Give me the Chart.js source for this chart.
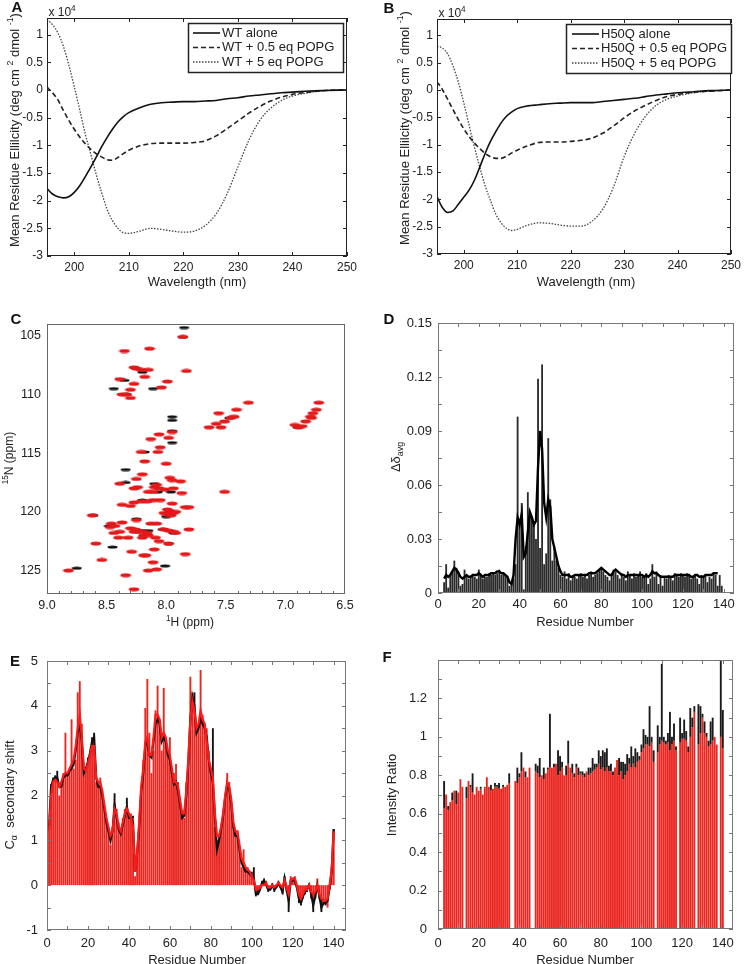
<!DOCTYPE html>
<html>
<head>
<meta charset="utf-8">
<script src="https://cdn.jsdelivr.net/npm/chart.js@4.4.0/dist/chart.umd.min.js"></script>
<style>
html, body { margin: 0; padding: 0; background: #fff; }
#fig { position: relative; width: 745px; height: 964px; overflow: hidden; font-family: 'Liberation Sans', Arial, sans-serif; color: #222; }
.pane { position: absolute; }
.lbl { position: absolute; white-space: nowrap; line-height: 1; transform: translate(-50%, -50%); }
.rot { transform: translate(-50%, -50%) rotate(-90deg); }
.letter { font-weight: bold; font-size: 15px; color: #111; }
.t12 { font-size: 12px; }
.t13 { font-size: 13px; }
sup, sub { font-size: 0.68em; line-height: 0; }
</style>
</head>
<body>
<div id="fig">
  <div class="pane" style="left:0;top:0;width:372px;height:300px"><canvas id="chartA"></canvas></div>
  <div class="pane" style="left:372px;top:0;width:373px;height:300px"><canvas id="chartB"></canvas></div>
  <div class="pane" style="left:0;top:300px;width:372px;height:332px"><canvas id="chartC"></canvas></div>
  <div class="pane" style="left:372px;top:300px;width:373px;height:332px"><canvas id="chartD"></canvas></div>
  <div class="pane" style="left:0;top:632px;width:372px;height:332px"><canvas id="chartE"></canvas></div>
  <div class="pane" style="left:372px;top:632px;width:373px;height:332px"><canvas id="chartF"></canvas></div>

  <div class="lbl letter" style="left:17px;top:6px">A</div>
  <div class="lbl t12" style="left:62px;top:12px">x 10<sup>4</sup></div>
  <div class="lbl rot t13" style="left:14px;top:130px">Mean Residue Ellilcity (deg cm <sup>2</sup> dmol <sup>-1</sup>)</div>
  <div class="lbl t13" style="left:197px;top:281px">Wavelength (nm)</div>

  <div class="lbl letter" style="left:389px;top:7px">B</div>
  <div class="lbl t12" style="left:452px;top:13px">x 10<sup>4</sup></div>
  <div class="lbl rot t13" style="left:404px;top:128px">Mean Residue Ellilcity (deg cm <sup>2</sup> dmol <sup>-1</sup>)</div>
  <div class="lbl t13" style="left:586px;top:281px">Wavelength (nm)</div>

  <div class="lbl letter" style="left:16px;top:318px">C</div>
  <div class="lbl rot t12" style="left:9px;top:458px"><sup>15</sup>N (ppm)</div>
  <div class="lbl t12" style="left:190px;top:622px"><sup>1</sup>H (ppm)</div>

  <div class="lbl letter" style="left:389px;top:318px">D</div>
  <div class="lbl rot t13" style="left:395px;top:457px">&Delta;&delta;<sub>avg</sub></div>
  <div class="lbl t13" style="left:585px;top:621px">Residue Number</div>

  <div class="lbl letter" style="left:15px;top:660px">E</div>
  <div class="lbl rot t13" style="left:9px;top:795px">C<sub>&alpha;</sub>&nbsp; secondary shift</div>
  <div class="lbl t13" style="left:197px;top:959px">Residue Number</div>

  <div class="lbl letter" style="left:387px;top:656px">F</div>
  <div class="lbl rot t13" style="left:391px;top:795px">Intensity Ratio</div>
  <div class="lbl t13" style="left:585px;top:959px">Residue Number</div>
</div>

<script>
// ---------- data ----------
// CD spectra (units of 10^4 deg cm2 dmol-1)
const cdWavelength = [195,196,197,198,199,200,201,202,203,204,205,206,207,208,209,210,212,214,216,218,220,222,224,226,228,230,232,234,236,238,240,243,246,250];
const wtAlone  = [-1.78,-1.88,-1.93,-1.95,-1.93,-1.85,-1.73,-1.57,-1.40,-1.22,-1.03,-0.86,-0.71,-0.58,-0.48,-0.41,-0.32,-0.26,-0.23,-0.22,-0.21,-0.21,-0.20,-0.19,-0.16,-0.14,-0.11,-0.09,-0.07,-0.05,-0.04,-0.02,-0.01,0];
const wtHalf   = [0.05,-0.05,-0.18,-0.37,-0.55,-0.71,-0.85,-0.97,-1.07,-1.15,-1.21,-1.26,-1.27,-1.22,-1.15,-1.09,-1.01,-0.97,-0.96,-0.96,-0.96,-0.95,-0.92,-0.83,-0.70,-0.56,-0.42,-0.30,-0.20,-0.13,-0.08,-0.04,-0.01,0];
const wtFive   = [1.27,1.18,1.03,0.79,0.45,0.06,-0.36,-0.79,-1.15,-1.52,-1.85,-2.15,-2.36,-2.50,-2.58,-2.59,-2.55,-2.50,-2.52,-2.55,-2.57,-2.55,-2.45,-2.24,-1.88,-1.39,-0.91,-0.55,-0.33,-0.19,-0.11,-0.05,-0.01,0];
const h50qAlone = [-1.95,-2.15,-2.24,-2.21,-2.09,-1.96,-1.83,-1.65,-1.41,-1.16,-0.94,-0.76,-0.60,-0.48,-0.40,-0.34,-0.29,-0.27,-0.25,-0.24,-0.23,-0.23,-0.23,-0.21,-0.19,-0.17,-0.15,-0.12,-0.09,-0.07,-0.05,-0.03,-0.01,0];
const h50qHalf  = [0.15,0.01,-0.17,-0.36,-0.54,-0.71,-0.85,-0.97,-1.07,-1.16,-1.22,-1.25,-1.25,-1.21,-1.15,-1.10,-1.02,-0.96,-0.95,-0.95,-0.94,-0.92,-0.88,-0.79,-0.66,-0.51,-0.38,-0.28,-0.19,-0.12,-0.08,-0.04,-0.02,0];
const h50qFive  = [0.80,0.77,0.66,0.44,0.14,-0.23,-0.64,-1.04,-1.41,-1.75,-2.02,-2.27,-2.43,-2.53,-2.57,-2.55,-2.47,-2.43,-2.44,-2.47,-2.49,-2.49,-2.40,-2.18,-1.78,-1.22,-0.79,-0.48,-0.28,-0.17,-0.11,-0.05,-0.02,0];

// HSQC peaks: [1H ppm, 15N ppm]
const peaksRed = [
  [7.86,105.1],[8.35,106.3],[8.14,106.1],[7.83,108.0],[8.27,107.7],[8.25,107.8],[8.21,107.9],[8.15,107.9],[8.18,108.5],[8.39,108.7],
  [8.27,109.1],[7.99,108.9],[8.04,109.4],[8.30,109.6],[8.37,110.0],[8.34,110.0],[8.30,110.3],[7.31,110.7],[7.41,111.3],[7.56,111.6],
  [7.46,112.0],[7.43,111.9],[7.51,112.3],[7.58,112.5],[7.64,112.8],[7.54,112.8],[6.72,110.7],[6.74,111.3],[6.77,111.6],[6.79,111.9],
  [6.78,112.0],[6.83,112.3],[6.92,112.6],[6.89,112.8],[6.86,112.7],[8.13,113.8],[8.06,113.4],[7.98,113.7],[7.95,113.2],[8.05,114.5],
  [8.07,114.9],[8.21,114.9],[8.18,115.7],[8.00,115.9],[8.20,116.8],[8.25,117.2],[7.97,117.1],[7.95,117.3],[7.88,117.4],[8.39,117.6],
  [8.24,117.9],[8.27,118.0],[8.08,117.7],[8.10,117.9],[8.06,118.0],[8.15,118.3],[8.11,118.3],[8.01,118.1],[7.94,118.0],[7.87,118.4],
  [7.51,118.3],[8.05,119.0],[8.11,119.0],[8.16,119.1],[8.21,119.1],[8.27,119.2],[7.95,119.3],[7.81,119.6],[7.84,119.6],[8.30,119.5],
  [8.37,119.4],[7.99,119.8],[7.97,120.0],[7.94,120.1],[7.99,120.2],[7.96,120.3],[8.02,120.1],[7.92,120.0],[8.62,120.3],[8.25,120.7],
  [8.13,121.0],[8.08,121.0],[8.37,120.9],[8.46,121.0],[8.47,121.3],[8.43,121.2],[8.30,121.4],[8.26,121.5],[8.27,121.7],[8.24,121.6],
  [8.39,121.7],[8.44,121.8],[8.20,121.7],[8.16,121.8],[8.19,122.0],[8.15,122.0],[8.02,121.5],[7.98,121.6],[7.94,121.7],[7.92,121.8],
  [7.81,121.5],[8.40,122.2],[8.32,122.2],[8.09,122.2],[8.20,122.2],[8.06,122.5],[7.98,122.7],[8.59,122.7],[8.29,123.4],[8.19,123.7],
  [8.17,123.7],[8.10,123.2],[7.84,123.6],[8.54,124.1],[8.11,124.3],[8.15,125.0],[8.08,124.9],[8.82,125.0],[8.34,125.4],[8.27,126.6]
];
const peaksBlack = [
  [7.85,104.3],[7.86,105.1],[8.20,108.1],[8.35,108.8],[8.44,109.5],[8.11,109.5],[8.33,110.0],[7.95,111.9],[7.95,112.2],[7.47,112.0],
  [6.90,112.8],[7.95,113.1],[7.95,114.1],[8.18,114.9],[8.34,116.4],[8.34,117.5],[8.07,118.3],[7.96,118.3],[8.10,117.6],[8.20,119.0],
  [7.97,119.9],[8.00,120.4],[8.61,120.3],[8.25,120.6],[8.48,121.2],[8.24,121.7],[8.20,121.6],[8.03,121.5],[7.94,121.8],[8.45,123.0],
  [8.01,124.6],[8.75,124.8],[8.15,121.6],[7.98,122.7]
];

// Residue 1..140 values (null = no data)
const shiftBarsD = [
  null,null,0.006,0.016,0.003,0.010,0.012,0.018,0.014,0.012, 0.004,0.005,0.013,0.009,0.008,0.009,0.010,0.009,0.008,0.013,
  0.010,0.008,0.009,0.009,0.011,0.010,0.011,0.010,0.011,0.013, 0.010,0.011,0.010,0.009,0.004,0.006,0.008,0.016,0.098,0.040,
  0.050,0.002,0.026,0.056,0.044,0.042,0.038,0.030,0.119,0.025, 0.127,0.016,0.022,0.086,0.052,0.018,0.026,0.018,0.014,0.010,
  0.009,0.012,0.008,0.011,0.007,0.010,0.009,0.008,0.010,0.011, 0.009,0.010,0.008,0.010,0.012,0.009,0.010,0.011,0.013,0.014,
  0.012,0.010,0.009,0.007,0.010,0.013,0.012,0.010,0.008,0.011, 0.009,0.007,0.012,0.010,0.008,0.011,0.009,0.010,0.012,0.009,
  0.010,0.011,0.005,0.008,0.016,0.009,0.012,0.005,0.010,0.004, 0.009,0.008,0.010,0.009,0.007,0.011,0.010,0.009,0.011,0.010,
  0.009,0.011,0.010,0.008,0.009,0.010,0.008,0.005,0.010,0.009, 0.010,0.006,0.009,0.008,0.011,0.010,0.004,0.010,0.004,null
];
const shiftLineD = [
  null,null,0.008,0.010,0.009,0.010,0.012,0.014,0.013,0.011, 0.009,0.008,0.009,0.010,0.009,0.009,0.010,0.010,0.010,0.011,
  0.010,0.009,0.010,0.010,0.010,0.011,0.011,0.011,0.012,0.012, 0.011,0.011,0.010,0.009,0.006,0.005,0.010,0.030,0.042,0.038,
  0.044,0.020,0.022,0.034,0.045,0.042,0.038,0.040,0.070,0.090, 0.080,0.050,0.042,0.052,0.048,0.030,0.025,0.020,0.015,0.012,
  0.010,0.010,0.010,0.010,0.009,0.009,0.010,0.010,0.010,0.010, 0.010,0.010,0.010,0.011,0.011,0.011,0.011,0.012,0.013,0.014,
  0.013,0.012,0.011,0.010,0.010,0.012,0.013,0.012,0.011,0.010, 0.010,0.009,0.010,0.010,0.010,0.010,0.010,0.010,0.010,0.010,
  0.009,0.010,0.009,0.010,0.012,0.011,0.011,0.010,0.009,0.009, 0.009,0.009,0.009,0.009,0.009,0.010,0.010,0.010,0.010,0.010,
  0.010,0.010,0.010,0.009,0.009,0.010,0.010,0.009,0.009,0.009, 0.010,0.010,0.010,0.010,0.011,0.011,0.011,null,null,null
];

const caBarsRed = [
  1.2,2.2,2.3,2.4,2.3,2.0,2.3,2.5,3.4,2.5, 2.6,3.7,2.6,2.8,4.3,4.55,3.6,2.5,2.6,2.8,
  3.0,3.2,3.3,2.3,2.2,2.4,2.0,1.7,1.5,1.2, 0.9,1.3,1.9,1.7,1.4,1.2,1.5,1.7,1.8,1.6,
  1.6,1.5,0.2,0.6,1.4,2.0,2.8,3.95,4.6,3.4, 2.5,3.0,3.9,4.45,3.7,3.0,4.4,3.2,3.0,3.3,
  2.6,2.5,2.7,2.3,1.9,1.6,1.5,2.3,2.6,4.65, 4.3,4.0,3.6,3.5,4.8,3.8,3.6,3.5,3.0,2.6,
  2.4,1.3,1.0,1.1,1.3,1.6,2.0,2.5,2.3,1.8, 1.4,1.2,1.2,0.8,0.4,0.8,0.4,0.4,0.3,0.2,
  0.1,-0.2,-0.1,-0.05,0.05,0.0,0.1,-0.1,-0.05,0.05, -0.1,0.0,0.1,0.0,-0.1,0.15,-0.1,-0.3,0.2,0.15,
  0.2,0.0,-0.3,-0.35,-0.2,-0.1,-0.1,0.05,-0.2,-0.3, -0.15,0.15,-0.2,-0.3,-0.3,-0.4,-0.5,0.0,0.4,1.2
];
const caBarsBlack = [
  1.35,2.25,2.4,2.45,2.55,2.0,2.25,2.4,3.3,2.4, 2.5,3.6,2.5,2.7,4.2,4.4,3.5,2.4,2.6,2.85,
  2.9,3.3,3.4,2.2,2.1,2.3,1.9,1.6,1.4,1.1, 0.9,1.2,2.05,1.6,1.3,1.1,1.4,1.6,1.95,1.5,
  1.6,1.55,0.2,0.65,1.3,1.9,2.7,3.8,4.4,3.3, 2.4,2.9,3.8,4.3,3.6,2.9,4.3,3.1,2.9,3.2,
  2.5,2.4,2.6,2.2,1.9,1.5,1.4,2.2,2.5,4.5, 4.3,4.3,3.5,3.4,4.6,3.7,3.5,3.4,2.9,2.5,
  3.5,1.2,0.8,1.0,1.2,1.5,1.9,2.4,2.3,1.7, 1.3,1.1,1.1,0.7,0.3,0.7,0.4,0.4,0.3,0.3,
  0.4,-0.25,-0.2,-0.1,0.1,0.15,0.0,-0.15,-0.1,0.0, -0.15,-0.05,0.1,-0.05,-0.2,0.2,-0.15,-0.6,0.15,0.1,
  0.15,-0.05,-0.4,-0.45,-0.3,-0.2,-0.15,0.05,-0.3,-0.6, -0.3,0.1,-0.3,-0.6,-0.4,-0.45,-0.4,-0.1,0.3,1.25
];
const caLineRed = [
  1.2,2.0,2.3,2.35,2.3,2.2,2.3,2.45,2.5,2.5, 2.6,2.7,2.8,3.1,3.5,3.8,3.3,2.6,2.55,2.7,
  2.9,3.1,3.1,2.4,2.3,2.3,2.1,1.8,1.5,1.3, 1.1,1.2,1.7,1.6,1.3,1.2,1.4,1.6,1.7,1.6,
  1.5,1.3,0.3,0.7,1.4,2.2,2.6,3.2,3.3,2.9, 2.9,3.3,3.8,3.8,3.7,3.3,3.4,3.3,3.0,2.9,
  2.6,2.3,2.3,2.2,1.9,1.6,1.6,2.1,2.8,3.7, 4.1,3.9,3.5,3.6,3.9,3.7,3.6,3.2,2.8,2.6,
  2.4,1.6,1.1,1.1,1.3,1.6,2.0,2.3,2.2,1.9, 1.4,1.2,1.2,0.9,0.6,0.5,0.4,0.35,0.3,0.2,
  0.1,-0.1,-0.1,-0.05,0.0,0.0,0.05,-0.05,-0.05,0.0, -0.05,0.0,0.05,0.0,-0.05,0.1,-0.05,-0.2,0.1,0.15,
  0.15,0.0,-0.2,-0.3,-0.2,-0.1,-0.1,0.0,-0.15,-0.2, -0.15,0.0,-0.2,-0.3,-0.35,-0.35,-0.3,0.0,0.35,1.2
];
const caLineBlack = [
  1.3,2.2,2.35,2.4,2.4,2.2,2.2,2.4,2.45,2.45, 2.55,2.6,2.7,3.0,3.4,3.65,3.2,2.5,2.6,2.75,
  2.95,3.2,3.3,2.4,2.2,2.2,2.0,1.7,1.4,1.2, 1.0,1.2,1.8,1.5,1.25,1.15,1.35,1.55,1.75,1.5,
  1.5,1.4,0.3,0.7,1.3,2.1,2.5,3.1,3.2,2.9, 2.85,3.2,3.6,3.7,3.6,3.2,3.3,3.2,2.9,2.8,
  2.5,2.25,2.3,2.1,1.8,1.5,1.55,2.0,2.7,3.7, 4.2,4.0,3.4,3.5,3.7,3.6,3.5,3.3,2.8,2.5,
  2.3,1.5,0.8,1.0,1.25,1.55,1.95,2.25,2.15,1.8, 1.3,1.1,1.1,0.8,0.5,0.4,0.3,0.3,0.25,0.2,
  0.15,-0.2,-0.2,-0.1,0.05,0.1,0.0,-0.1,-0.1,0.0, -0.1,-0.05,0.05,-0.05,-0.15,0.15,-0.1,-0.35,0.1,0.1,
  0.1,-0.05,-0.3,-0.4,-0.25,-0.15,-0.1,0.0,-0.2,-0.45, -0.25,0.0,-0.25,-0.5,-0.4,-0.4,-0.35,-0.05,0.3,1.25
];

const ratioRed = [
  null,null,0.63,0.70,0.62,0.66,0.67,0.72,0.65,0.71, 0.78,0.74,null,0.68,0.77,0.74,0.71,0.70,0.74,0.72,
  0.73,0.70,0.74,0.79,0.74,0.72,0.73,0.74,0.74,0.73, 0.73,0.74,0.74,0.75,0.76,null,null,0.77,0.76,0.79,
  0.82,0.84,0.79,0.79,0.84,null,null,0.82,0.81,0.79, 0.80,0.78,0.81,0.83,0.84,0.84,0.84,0.86,0.80,0.82,
  0.84,0.80,0.80,0.86,0.84,0.81,0.79,0.84,0.80,0.81, 0.80,0.79,0.82,0.80,0.81,0.82,0.83,0.84,0.86,0.83,
  0.84,0.82,0.84,0.82,0.82,0.80,0.84,0.88,0.80,0.82, 0.78,0.80,0.82,0.86,0.84,0.86,0.84,0.87,0.88,0.92,
  0.94,0.96,0.96,0.95,0.97,0.87,null,0.92,0.96,0.98, 0.97,0.96,0.97,0.93,0.96,0.98,0.93,null,0.97,0.99,
  0.99,0.98,0.92,1.00,1.05,1.13,null,0.96,1.02,1.10, 1.02,1.00,0.95,0.96,0.98,1.00,0.96,null,1.00,0.94
];
const ratioBlack = [
  null,null,0.77,0.70,0.64,0.66,0.71,0.72,0.72,0.71, 0.78,0.74,null,0.74,0.77,0.75,0.81,0.70,0.74,0.72,
  0.74,0.70,0.74,0.79,0.74,0.75,0.73,0.76,0.75,0.76, 0.73,0.75,0.74,0.75,0.81,null,null,0.77,0.84,0.81,
  0.92,0.84,0.82,0.79,0.84,null,null,0.86,0.85,0.89, 0.80,0.84,0.80,0.84,1.12,0.84,0.86,0.86,0.93,0.90,
  0.87,0.80,0.85,0.98,0.84,0.86,0.81,0.86,0.84,0.82, 0.82,0.81,0.82,0.84,0.84,0.89,0.86,0.86,0.93,0.90,
  0.93,0.92,0.94,0.85,0.86,0.82,0.84,0.88,0.89,0.87, 0.87,0.86,0.91,0.89,0.95,0.90,0.94,0.92,0.90,0.96,
  1.04,1.01,1.00,1.16,1.00,0.93,null,1.06,1.00,1.38, 1.00,0.98,1.02,1.13,1.00,1.07,0.95,null,1.10,1.02,
  1.09,1.03,0.95,1.15,1.10,1.16,null,1.17,1.16,1.12, 1.08,1.02,0.98,1.08,1.10,0.96,0.95,null,1.40,1.14
];

// tick values
const cdTicksX = [200,210,220,230,240,250];
const cdTicksY = [-3,-2.5,-2,-1.5,-1,-0.5,0,0.5,1];
const nmrTicksX = [9.0,8.5,8.0,7.5,7.0,6.5];
const nmrTicksY = [105,110,115,120,125];
const nmrMinorX = [8.9,8.8,8.7,8.6,8.4,8.3,8.2,8.1,7.9,7.8,7.7,7.6,7.4,7.3,7.2,7.1,6.9,6.8,6.7,6.6];
const resTicksX = [0,20,40,60,80,100,120,140];
const resMinorX = [0,10,20,30,40,50,60,70,80,90,100,110,120,130,140];
const dTicksY = [0,0.03,0.06,0.09,0.12,0.15];
const dMinorY = [0,0.015,0.03,0.045,0.06,0.075,0.09,0.105,0.12,0.135,0.15];
const eTicksY = [-1,0,1,2,3,4,5];
const eMinorY = [-1,-0.5,0,0.5,1,1.5,2,2.5,3,3.5,4,4.5,5];
const fTicksY = [0,0.2,0.4,0.6,0.8,1,1.2];
const fMinorY = [0,0.1,0.2,0.3,0.4,0.5,0.6,0.7,0.8,0.9,1,1.1,1.2,1.3,1.4];

// ---------- helpers ----------
const FONT = "'Liberation Sans', Arial, sans-serif";
Chart.defaults.font.family = FONT;
Chart.defaults.color = '#222';
Chart.defaults.animation = false;
Chart.defaults.plugins.legend.display = false;
Chart.defaults.plugins.tooltip.enabled = false;

const framePlugin = {
  id: 'frame',
  afterDatasetsDraw(chart, args, o) {
    if (!o.on) return;
    const {ctx, chartArea: a} = chart;
    const sx = chart.scales.x, sy = chart.scales.y;
    ctx.save();
    ctx.strokeStyle = o.color;
    ctx.lineWidth = 1;
    ctx.strokeRect(a.left + 0.5, a.top + 0.5, a.right - a.left - 1, a.bottom - a.top - 1);
    ctx.beginPath();
    (o.xTicks || []).forEach(v => {
      const x = Math.round(sx.getPixelForValue(v)) + 0.5;
      ctx.moveTo(x, a.bottom); ctx.lineTo(x, a.bottom - o.len);
      if (o.top !== false) { ctx.moveTo(x, a.top); ctx.lineTo(x, a.top + o.len); }
    });
    (o.yTicks || []).forEach(v => {
      const y = Math.round(sy.getPixelForValue(v)) + 0.5;
      ctx.moveTo(a.left, y); ctx.lineTo(a.left + o.len, y);
      if (o.right !== false) { ctx.moveTo(a.right, y); ctx.lineTo(a.right - o.len, y); }
    });
    ctx.stroke();
    ctx.restore();
  }
};

const legendBox = {
  id: 'legendBox',
  afterDraw(chart, args, o) {
    if (!o.on) return;
    const ctx = chart.ctx;
    ctx.save();
    ctx.fillStyle = '#fff';
    ctx.fillRect(o.x, o.y, o.w, o.h);
    ctx.strokeStyle = '#222';
    ctx.lineWidth = 1.5;
    ctx.strokeRect(o.x + 0.5, o.y + 0.5, o.w, o.h);
    ctx.font = '13px ' + FONT;
    ctx.textBaseline = 'middle';
    chart.data.datasets.forEach((ds, i) => {
      const y = o.y + o.first + i * o.step;
      ctx.setLineDash(ds.borderDash || []);
      ctx.lineWidth = ds.borderWidth;
      ctx.strokeStyle = ds.borderColor;
      ctx.beginPath();
      ctx.moveTo(o.x + o.pad, y);
      ctx.lineTo(o.x + o.pad + o.sample, y);
      ctx.stroke();
      ctx.setLineDash([]);
      ctx.fillStyle = '#222';
      ctx.fillText(ds.label, o.x + o.pad + o.sample + 2, y);
    });
    ctx.restore();
  }
};
Chart.register(framePlugin, legendBox);

function axis(min, max, ticks, o) {
  return {
    type: 'linear', min: min, max: max, reverse: !!o.reverse, offset: false,
    grid: { display: false, drawTicks: false },
    border: { display: false },
    ticks: {
      padding: o.pad, font: { size: o.size }, color: '#222',
      autoSkip: false, maxRotation: 0, minRotation: 0,
      callback: o.fmt || (v => String(v))
    },
    afterBuildTicks: s => { s.ticks = ticks.map(v => ({ value: v })); },
    afterFit: s => { if (o.w) s.width = o.w; if (o.h) s.height = o.h; }
  };
}

function xy(xs, ys) { return xs.map((x, i) => ({ x: x, y: ys[i] })); }
function residues(vals, keepNull) {
  const out = [];
  vals.forEach((v, i) => { if (v !== null || keepNull) out.push({ x: i + 1, y: v }); });
  return out;
}
// part of the black bar that sticks out beyond the red bar (floating bar)
function overhang(black, red) {
  const out = [];
  black.forEach((b, i) => {
    const r = red[i];
    if (b === null) return;
    if (r === null || (b >= 0) !== (r >= 0)) { out.push({ x: i + 1, y: [0, b] }); return; }
    if (Math.abs(b) > Math.abs(r)) out.push({ x: i + 1, y: [r, b] });
  });
  return out;
}

function cdChart(id, names, series, layout, legend) {
  const styles = [
    { borderColor: '#111', borderWidth: 1.6, borderDash: [] },
    { borderColor: '#222', borderWidth: 1.6, borderDash: [5, 3] },
    { borderColor: '#444', borderWidth: 1.3, borderDash: [1.5, 1.5] }
  ];
  new Chart(document.getElementById(id), {
    type: 'line',
    data: {
      datasets: series.map((s, i) => Object.assign({
        label: names[i], data: xy(cdWavelength, s), pointRadius: 0,
        cubicInterpolationMode: 'monotone', fill: false
      }, styles[i]))
    },
    options: {
      responsive: true, maintainAspectRatio: false,
      layout: { padding: { top: layout.top, right: layout.right, left: 0, bottom: 0 } },
      scales: {
        x: axis(195, 250, cdTicksX, { pad: 4, size: 12, h: layout.h }),
        y: axis(-3, 1.3, cdTicksY, { pad: 4, size: 12, w: layout.w })
      },
      plugins: {
        frame: { on: true, color: '#222', len: 4, xTicks: cdTicksX, yTicks: cdTicksY },
        legendBox: Object.assign({ on: true }, legend)
      }
    }
  });
}

function ellipse(color, w, h) {
  const c = document.createElement('canvas');
  c.width = w; c.height = h;
  const g = c.getContext('2d');
  g.fillStyle = color;
  g.beginPath();
  g.ellipse(w / 2, h / 2, w / 2 - 0.5, h / 2 - 0.5, 0, 0, Math.PI * 2);
  g.fill();
  return c;
}

// ---------- A, B ----------
cdChart('chartA', ['WT alone', 'WT + 0.5 eq POPG', 'WT + 5 eq POPG'],
  [wtAlone, wtHalf, wtFive],
  { top: 18, right: 25, w: 47, h: 44 },
  { x: 188, y: 23, w: 155, h: 49, first: 10, step: 14.5, pad: 5, sample: 27 });

cdChart('chartB', ['H50Q alone', 'H50Q + 0.5 eq POPG', 'H50Q + 5 eq POPG'],
  [h50qAlone, h50qHalf, h50qFive],
  { top: 19, right: 10, w: 65, h: 46 },
  { x: 194, y: 24, w: 165, h: 49, first: 10, step: 14.5, pad: 6, sample: 27 });

// ---------- C ----------
new Chart(document.getElementById('chartC'), {
  type: 'scatter',
  data: {
    datasets: [
      { data: peaksRed.map(p => ({ x: p[0], y: p[1] })), pointStyle: ellipse('#e3191b', 12, 5), pointRadius: 3, order: 0 },
      { data: peaksBlack.map(p => ({ x: p[0], y: p[1] })), pointStyle: ellipse('#111', 11, 4), pointRadius: 3, order: 1 }
    ]
  },
  options: {
    responsive: true, maintainAspectRatio: false,
    layout: { padding: { top: 24, right: 27, left: 0, bottom: 0 } },
    scales: {
      x: axis(6.5, 9.0, nmrTicksX, { pad: 4, size: 12.5, h: 38, reverse: true, fmt: v => v.toFixed(1) }),
      y: axis(104, 127, nmrTicksY, { pad: 6, size: 12.5, w: 47, reverse: true })
    },
    plugins: {
      frame: { on: true, color: '#666', len: 3, xTicks: nmrMinorX, yTicks: [], top: false }
    }
  }
});

// ---------- D ----------
new Chart(document.getElementById('chartD'), {
  type: 'bar',
  data: {
    datasets: [
      { type: 'line', data: residues(shiftLineD, true), borderColor: '#000', borderWidth: 2.4, pointRadius: 0, order: 0 },
      { type: 'bar', data: residues(shiftBarsD), backgroundColor: '#2b2b2b', barPercentage: 0.9, categoryPercentage: 1, order: 1 }
    ]
  },
  options: {
    responsive: true, maintainAspectRatio: false,
    layout: { padding: { top: 23, right: 11, left: 0, bottom: 0 } },
    scales: {
      x: axis(0, 145, resTicksX, { pad: 4, size: 13, h: 39 }),
      y: axis(0, 0.15, dTicksY, { pad: 6, size: 13, w: 66 })
    },
    plugins: {
      frame: { on: true, color: '#777', len: 4, xTicks: resMinorX, yTicks: dMinorY }
    }
  }
});

// ---------- E ----------
new Chart(document.getElementById('chartE'), {
  type: 'bar',
  data: {
    datasets: [
      { type: 'line', data: residues(caLineRed, true), borderColor: '#ff1a1a', borderWidth: 2.2, pointRadius: 0, order: 0 },
      { type: 'line', data: residues(caLineBlack, true), borderColor: '#111', borderWidth: 2.2, pointRadius: 0, order: 1 },
      { type: 'bar', data: overhang(caBarsBlack, caBarsRed), backgroundColor: '#111', barPercentage: 0.92, categoryPercentage: 1, grouped: false, order: 2 },
      { type: 'bar', data: residues(caBarsRed), backgroundColor: '#ea2621', barPercentage: 0.92, categoryPercentage: 1, grouped: false, order: 3 }
    ]
  },
  options: {
    responsive: true, maintainAspectRatio: false,
    layout: { padding: { top: 29, right: 26, left: 0, bottom: 0 } },
    scales: {
      x: axis(0, 146, resTicksX, { pad: 6, size: 13, h: 34 }),
      y: axis(-1, 5, eTicksY, { pad: 9, size: 13, w: 47 })
    },
    plugins: {
      frame: { on: true, color: '#777', len: 4, xTicks: resMinorX, yTicks: eMinorY }
    }
  }
});

// ---------- F ----------
new Chart(document.getElementById('chartF'), {
  type: 'bar',
  data: {
    datasets: [
      { data: overhang(ratioBlack, ratioRed), backgroundColor: '#1a1a1a', barPercentage: 0.92, categoryPercentage: 1, grouped: false, order: 0 },
      { data: residues(ratioRed), backgroundColor: '#ea2621', barPercentage: 0.92, categoryPercentage: 1, grouped: false, order: 1 }
    ]
  },
  options: {
    responsive: true, maintainAspectRatio: false,
    layout: { padding: { top: 28, right: 12, left: 0, bottom: 0 } },
    scales: {
      x: axis(0, 145, resTicksX, { pad: 7, size: 13, h: 35 }),
      y: axis(0, 1.4, fTicksY, { pad: 11, size: 13, w: 66 })
    },
    plugins: {
      frame: { on: true, color: '#777', len: 4, xTicks: resMinorX, yTicks: fMinorY }
    }
  }
});
</script>
</body>
</html>
